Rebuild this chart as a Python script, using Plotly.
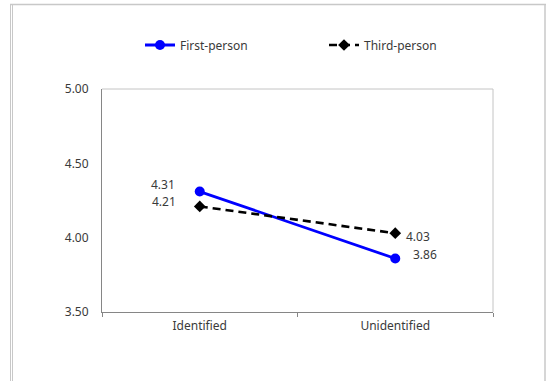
import plotly.graph_objects as go

categories = ["Identified", "Unidentified"]
first_person = [4.31, 3.86]
third_person = [4.21, 4.03]
series_names = ["First-person", "Third-person"]
y_ticks = [3.5, 4.0, 4.5, 5.0]

W, H = 547, 381
L, R, T, B = 102, 493, 89, 312  # plot area pixels


def px(x):
    return (x - L) / (R - L)


def py(y):
    return (B - y) / (B - T)


FONT = "Noto Sans"
TXT = "#3a3a3a"

fig = go.Figure()
fig.add_trace(go.Scatter(
    x=categories, y=first_person, name=series_names[0], mode="lines+markers",
    line=dict(color="#0000FF", width=2.8),
    marker=dict(symbol="circle", size=10, color="#0000FF"),
))
fig.add_trace(go.Scatter(
    x=categories, y=third_person, name=series_names[1], mode="lines+markers",
    line=dict(color="#000000", width=2.6, dash="8px,5px"),
    marker=dict(symbol="diamond", size=9, color="#000000"),
))

# data labels
label_specs = [
    (first_person[0], categories[0], "right", -23, 7),
    (third_person[0], categories[0], "right", -22, 5),
    (third_person[1], categories[1], "left", 9, -3),
    (first_person[1], categories[1], "left", 16, 3.5),
]
for v, c, anc, xs, ys in label_specs:
    fig.add_annotation(x=c, y=v, text=f"{v:.2f}", showarrow=False,
                       xanchor=anc, yanchor="middle", xshift=xs, yshift=ys,
                       font=dict(family=FONT, size=12, color=TXT))

shapes = []
# plot border (light) top/right
shapes.append(dict(type="line", xref="paper", yref="paper", x0=0, x1=1, y0=1, y1=1,
                   line=dict(color="#c4c4c4", width=1)))
shapes.append(dict(type="line", xref="paper", yref="paper", x0=1, x1=1, y0=0, y1=1,
                   line=dict(color="#c4c4c4", width=1)))
# outer frame
frame = "#c8c8c8"
shapes.append(dict(type="line", xref="paper", yref="paper", x0=px(10), x1=px(546), y0=py(4.5), y1=py(4.5),
                   line=dict(color=frame, width=1.5)))
shapes.append(dict(type="line", xref="paper", yref="paper", x0=px(10.5), x1=px(10.5), y0=py(4), y1=py(390),
                   line=dict(color=frame, width=1)))
shapes.append(dict(type="line", xref="paper", yref="paper", x0=px(12.5), x1=px(12.5), y0=py(4), y1=py(390),
                   line=dict(color=frame, width=1)))
shapes.append(dict(type="line", xref="paper", yref="paper", x0=px(545), x1=px(545), y0=py(4), y1=py(390),
                   line=dict(color=frame, width=1.5)))

fig.update_layout(
    width=W, height=H,
    margin=dict(l=L, r=W - R, t=T, b=H - B, pad=0),
    paper_bgcolor="white", plot_bgcolor="white",
    font=dict(family=FONT, size=12, color=TXT),
    showlegend=True,
    legend=dict(orientation="h", x=px(140), y=py(45), xanchor="left", yanchor="middle",
                font=dict(family=FONT, size=12, color=TXT),
                entrywidth=139, entrywidthmode="pixels", itemwidth=30,
                bgcolor="rgba(0,0,0,0)"),
    shapes=shapes,
)
fig.update_xaxes(
    type="category", range=[-0.5, 1.5], showgrid=False, zeroline=False,
    showline=True, linecolor="#868686", linewidth=1,
    ticks="outside", tickson="boundaries", ticklen=4, tickcolor="#868686",
    ticklabelstandoff=3,
    tickfont=dict(family=FONT, size=12, color=TXT),
)
fig.update_yaxes(
    range=[3.5, 5.0], tickvals=y_ticks, tickformat=".2f", showgrid=False, zeroline=False,
    showline=True, linecolor="#868686", linewidth=1, ticks="",
    ticklabelstandoff=10,
    tickfont=dict(family=FONT, size=12, color=TXT),
)

fig.write_html("out.html", config={"displayModeBar": False},
               post_script="document.body.style.margin='0';document.body.style.overflow='hidden';")
